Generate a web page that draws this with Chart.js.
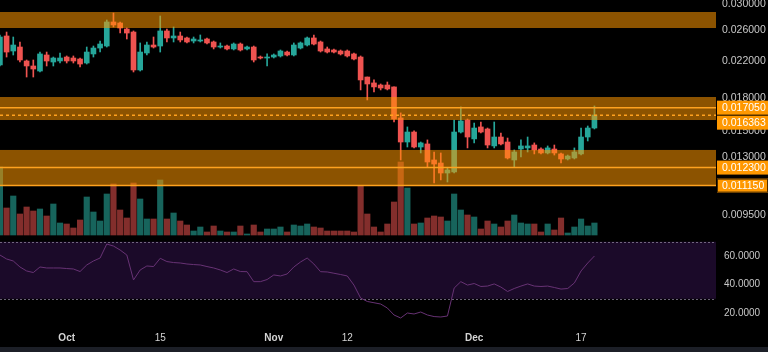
<!DOCTYPE html>
<html>
<head>
<meta charset="utf-8">
<script src="https://cdn.jsdelivr.net/npm/chart.js@4/dist/chart.umd.min.js"></script>
<style>
  html, body { margin: 0; padding: 0; background: #000; }
  #wrap { position: relative; width: 768px; height: 347px; }
  #foot { width: 768px; height: 5px; background: #1c1f27; }
</style>
</head>
<body>
<div id="wrap"><canvas id="chart"></canvas></div>
<div id="foot"></div>
<script>
// daily candles, Sep 21 .. Dec 19 (day 0 = Oct 1)
const days = [-10, -9, -8, -7, -6, -5, -4, -3, -2, -1,
  0, 1, 2, 3, 4, 5, 6, 7, 8, 9,
  10, 11, 12, 13, 14, 15, 16, 17, 18, 19,
  20, 21, 22, 23, 24, 25, 26, 27, 28, 29,
  30, 31, 32, 33, 34, 35, 36, 37, 38, 39,
  40, 41, 42, 43, 44, 45, 46, 47, 48, 49,
  50, 51, 52, 53, 54, 55, 56, 57, 58, 59,
  60, 61, 62, 63, 64, 65, 66, 67, 68, 69,
  70, 71, 72, 73, 74, 75, 76, 77, 78, 79];

const opens = [0.02152, 0.02520, 0.02322, 0.02373, 0.02199, 0.02140, 0.02082, 0.02272, 0.02187, 0.02199,
  0.02247, 0.02235, 0.02223, 0.02175, 0.02285, 0.02360, 0.02386, 0.02720, 0.02705, 0.02618,
  0.02575, 0.02094, 0.02297, 0.02399, 0.02386, 0.02590, 0.02493, 0.02520, 0.02493, 0.02452,
  0.02452, 0.02479, 0.02439, 0.02373, 0.02386, 0.02348, 0.02412, 0.02348, 0.02373, 0.02247,
  0.02235, 0.02247, 0.02260, 0.02309, 0.02272, 0.02360, 0.02399, 0.02493, 0.02439, 0.02348,
  0.02335, 0.02322, 0.02322, 0.02285, 0.02247, 0.02015, 0.01951, 0.01929, 0.01929, 0.01909,
  0.01612, 0.01414, 0.01493, 0.01376, 0.01399, 0.01282, 0.01261, 0.01194, 0.01201, 0.01493,
  0.01594, 0.01438, 0.01535, 0.01518, 0.01384, 0.01453, 0.01414, 0.01282, 0.01361, 0.01369,
  0.01391, 0.01361, 0.01332, 0.01361, 0.01325, 0.01289, 0.01296, 0.01325, 0.01453, 0.01526];

const highs = [0.02534, 0.02575, 0.02506, 0.02439, 0.02211, 0.02211, 0.02309, 0.02309, 0.02247, 0.02297,
  0.02260, 0.02260, 0.02235, 0.02373, 0.02386, 0.02452, 0.02750, 0.02856, 0.02720, 0.02632,
  0.02590, 0.02426, 0.02439, 0.02506, 0.02810, 0.02618, 0.02647, 0.02575, 0.02506, 0.02506,
  0.02534, 0.02493, 0.02452, 0.02426, 0.02399, 0.02426, 0.02426, 0.02386, 0.02386, 0.02260,
  0.02285, 0.02285, 0.02335, 0.02322, 0.02426, 0.02439, 0.02506, 0.02534, 0.02452, 0.02373,
  0.02348, 0.02335, 0.02335, 0.02297, 0.02260, 0.02015, 0.01983, 0.01940, 0.01961, 0.01909,
  0.01657, 0.01535, 0.01502, 0.01414, 0.01430, 0.01339, 0.01332, 0.01227, 0.01594, 0.01712,
  0.01603, 0.01568, 0.01577, 0.01526, 0.01577, 0.01485, 0.01445, 0.01354, 0.01430, 0.01453,
  0.01407, 0.01369, 0.01384, 0.01391, 0.01332, 0.01317, 0.01369, 0.01526, 0.01543, 0.01721];

const lows = [0.02140, 0.02247, 0.02272, 0.02187, 0.02015, 0.02015, 0.02071, 0.02140, 0.02140, 0.02175,
  0.02175, 0.02175, 0.02128, 0.02163, 0.02247, 0.02309, 0.02373, 0.02647, 0.02561, 0.02479,
  0.02071, 0.02082, 0.02272, 0.02360, 0.02309, 0.02439, 0.02439, 0.02439, 0.02426, 0.02426,
  0.02439, 0.02412, 0.02348, 0.02360, 0.02335, 0.02335, 0.02322, 0.02335, 0.02187, 0.02223,
  0.02140, 0.02235, 0.02247, 0.02260, 0.02260, 0.02348, 0.02386, 0.02399, 0.02309, 0.02297,
  0.02297, 0.02272, 0.02247, 0.02211, 0.01878, 0.01778, 0.01857, 0.01878, 0.01878, 0.01577,
  0.01282, 0.01376, 0.01369, 0.01332, 0.01234, 0.01131, 0.01150, 0.01137, 0.01194, 0.01485,
  0.01369, 0.01407, 0.01485, 0.01369, 0.01369, 0.01391, 0.01289, 0.01234, 0.01303, 0.01339,
  0.01325, 0.01325, 0.01325, 0.01317, 0.01261, 0.01282, 0.01289, 0.01317, 0.01422, 0.01518];

const closes = [0.02506, 0.02309, 0.02399, 0.02211, 0.02140, 0.02105, 0.02285, 0.02199, 0.02235, 0.02235,
  0.02199, 0.02199, 0.02163, 0.02309, 0.02360, 0.02412, 0.02720, 0.02676, 0.02632, 0.02561,
  0.02094, 0.02309, 0.02399, 0.02373, 0.02590, 0.02493, 0.02520, 0.02466, 0.02439, 0.02479,
  0.02466, 0.02426, 0.02373, 0.02386, 0.02348, 0.02412, 0.02335, 0.02373, 0.02211, 0.02235,
  0.02247, 0.02272, 0.02322, 0.02272, 0.02399, 0.02426, 0.02493, 0.02412, 0.02322, 0.02309,
  0.02309, 0.02285, 0.02260, 0.02223, 0.01983, 0.01940, 0.01909, 0.01898, 0.01888, 0.01603,
  0.01414, 0.01493, 0.01376, 0.01407, 0.01268, 0.01254, 0.01194, 0.01214, 0.01493, 0.01586,
  0.01453, 0.01526, 0.01493, 0.01391, 0.01453, 0.01399, 0.01296, 0.01339, 0.01384, 0.01384,
  0.01354, 0.01332, 0.01369, 0.01332, 0.01289, 0.01310, 0.01339, 0.01453, 0.01526, 0.01638];

const volumes = [68, 27, 39, 21, 28, 24, 26, 19, 31, 12,
  11, 7, 15, 38, 23, 14, 41, 51, 25, 17,
  52, 36, 16, 16, 55, 16, 22, 14, 10, 4,
  8, 3, 9, 4, 3, 3, 9, 1, 10, 3,
  6, 6, 8, 3, 10, 9, 11, 8, 7, 4,
  4, 4, 4, 3, 49, 21, 8, 3, 11, 33,
  73, 47, 11, 12, 17, 19, 18, 14, 41, 25,
  20, 18, 6, 14, 11, 8, 14, 20, 12, 11,
  11, 3, 11, 5, 17, 2, 8, 16, 9, 12];

const rsi = [60.7, 57.9, 56.5, 52.3, 49.5, 48.4, 52.3, 51.6, 51.6, 51.6,
  51.2, 50.9, 49.1, 53.7, 56.5, 58.6, 68.4, 67.0, 64.2, 60.7,
  43.2, 50.2, 53.0, 52.6, 58.4, 56.1, 55.4, 55.1, 54.4, 54.0,
  53.7, 52.6, 51.6, 50.2, 48.4, 50.9, 49.1, 49.0, 42.0, 42.0,
  43.5, 46.7, 46.0, 47.4, 52.3, 55.8, 58.6, 54.4, 49.0, 48.8,
  47.9, 47.0, 46.0, 39.6, 30.5, 28.1, 27.2, 26.3, 23.5, 18.6,
  16.5, 20.0, 19.3, 20.7, 18.6, 17.5, 17.2, 17.9, 37.5, 42.0,
  39.6, 40.7, 38.6, 38.9, 40.4, 38.2, 35.1, 37.2, 38.9, 40.4,
  38.9, 38.6, 38.9, 37.9, 36.8, 37.2, 41.1, 49.5, 55.1, 60.0];

// support / resistance zones and levels
const zoneLows = [0.02632, 0.01594, 0.01115];
const zoneHighs = [0.02872, 0.01807, 0.01354];
const levelValues = [0.017050, 0.016363, 0.012300, 0.011150];
const levelDashed = [false, true, false, false];
const rsiBand = [30, 70];

// axes
const xTickDays = [0, 14, 31, 42, 61, 77];
const xTickLabels = ['Oct', '15', 'Nov', '12', 'Dec', '17'];
const priceTicks = [0.03, 0.026, 0.022, 0.018, 0.015, 0.013, 0.0095];
const rsiTicks = [60, 40, 20];

const FONT = '"Liberation Sans", Arial, sans-serif';
const UP = '#26a69a';
const DOWN = '#ef5350';

const isUp = i => closes[i] >= opens[i];
const candleColor = ctx => isUp(ctx.dataIndex) ? UP : DOWN;
const volColor = ctx => isUp(ctx.dataIndex) ? 'rgba(38, 166, 154, 0.6)' : 'rgba(239, 83, 80, 0.55)';

const zonesPlugin = {
    id: 'zones',
    beforeDatasetsDraw(chart) {
        const { ctx, chartArea: a, scales: { yr } } = chart;
        const top = yr.getPixelForValue(rsiBand[1]);
        const bot = yr.getPixelForValue(rsiBand[0]);
        ctx.save();
        ctx.fillStyle = '#1b0a29';
        ctx.fillRect(a.left, top, a.right - a.left, bot - top);
        ctx.strokeStyle = 'rgba(150, 140, 165, 0.7)';
        ctx.lineWidth = 1;
        ctx.setLineDash([2, 2]);
        [top, bot].forEach(py => {
            ctx.beginPath();
            ctx.moveTo(a.left, Math.round(py) + 0.5);
            ctx.lineTo(a.right, Math.round(py) + 0.5);
            ctx.stroke();
        });
        ctx.restore();
    },
    afterDatasetsDraw(chart) {
        const { ctx, chartArea: a, scales: { y } } = chart;
        ctx.save();
        ctx.fillStyle = 'rgba(255, 152, 0, 0.55)';
        zoneLows.forEach((lo, i) => {
            const y1 = y.getPixelForValue(zoneHighs[i]);
            const y2 = y.getPixelForValue(lo);
            ctx.fillRect(a.left, y1, a.right - a.left, y2 - y1);
        });
        ctx.strokeStyle = '#ffa21f';
        ctx.lineWidth = 1.5;
        levelValues.forEach((v, i) => {
            const py = y.getPixelForValue(v);
            ctx.setLineDash(levelDashed[i] ? [3, 3] : []);
            ctx.beginPath();
            ctx.moveTo(a.left, py);
            ctx.lineTo(a.right, py);
            ctx.stroke();
        });
        ctx.restore();
    },
    afterDraw(chart) {
        // price tags on the right axis
        const { ctx, scales: { y } } = chart;
        ctx.save();
        ctx.font = '10.5px ' + FONT;
        ctx.textBaseline = 'middle';
        let prev = -Infinity;
        levelValues.forEach((v, i) => {
            let py = y.getPixelForValue(v);
            if (py - prev < 15) py = prev + 15;
            prev = py;
            ctx.fillStyle = '#ff9800';
            ctx.fillRect(y.left + 1, py - 7, y.right - y.left - 1, 14);
            if (i === levelValues.length - 1) {
                ctx.strokeStyle = '#4a2c00';
                ctx.lineWidth = 1;
                ctx.strokeRect(y.left + 1.5, py - 6.5, y.right - y.left - 2, 13);
            }
            ctx.fillStyle = '#ffffff';
            ctx.fillText(v.toFixed(6), y.left + 6, py + 0.5);
        });
        ctx.restore();
    }
};

new Chart(document.getElementById('chart'), {
    data: {
        datasets: [
            {
                type: 'line',
                label: 'RSI',
                data: days.map((d, i) => ({ x: d, y: rsi[i] })),
                yAxisID: 'yr',
                borderColor: '#673274',
                borderWidth: 1,
                pointRadius: 0,
                tension: 0,
                order: 0
            },
            {
                type: 'bar',
                label: 'Body',
                data: days.map((d, i) => ({ x: d, y: [opens[i], closes[i]] })),
                yAxisID: 'y',
                backgroundColor: candleColor,
                barThickness: 5,
                minBarLength: 1,
                grouped: false,
                order: 1
            },
            {
                type: 'bar',
                label: 'Wick',
                data: days.map((d, i) => ({ x: d, y: [lows[i], highs[i]] })),
                yAxisID: 'y',
                backgroundColor: candleColor,
                barThickness: 1,
                grouped: false,
                order: 2
            },
            {
                type: 'bar',
                label: 'Volume',
                data: days.map((d, i) => ({ x: d, y: volumes[i] })),
                yAxisID: 'yv',
                backgroundColor: volColor,
                barThickness: 5.5,
                grouped: false,
                order: 3
            }
        ]
    },
    options: {
        responsive: true,
        maintainAspectRatio: false,
        animation: false,
        layout: { padding: 0 },
        plugins: {
            legend: { display: false },
            tooltip: { enabled: false }
        },
        scales: {
            x: {
                type: 'linear',
                offset: false,
                min: -9.985,
                max: 97.2,
                grid: { display: false, drawTicks: false, offset: false },
                border: { display: false },
                afterBuildTicks: s => { s.ticks = xTickDays.map(v => ({ value: v })); },
                afterFit: s => { s.height = 22; s.paddingLeft = 0; s.paddingRight = 0; },
                ticks: {
                    color: '#d4d4d4',
                    padding: 7,
                    maxRotation: 0,
                    autoSkip: false,
                    font: c => ({
                        family: FONT,
                        size: 10,
                        weight: isNaN(Number(xTickLabels[c.index])) ? 'bold' : 'normal'
                    }),
                    callback: (v, i) => xTickLabels[i]
                }
            },
            y: {
                type: 'logarithmic',
                position: 'right',
                stack: 'right',
                stackWeight: 236,
                min: 0.008471,
                max: 0.030661,
                grid: { display: false, drawTicks: false },
                border: { display: false },
                afterBuildTicks: s => { s.ticks = priceTicks.map(v => ({ value: v })); },
                afterFit: s => { s.width = 52; s.paddingTop = 0; s.paddingBottom = 0; },
                ticks: {
                    color: '#c8c8c8',
                    padding: 6,
                    font: { family: FONT, size: 10.5 },
                    callback: v => Number(v).toFixed(6)
                }
            },
            yr: {
                type: 'linear',
                position: 'right',
                stack: 'right',
                stackWeight: 89,
                min: 11.58,
                max: 74.04,
                grid: { display: false, drawTicks: false },
                border: { display: false },
                afterBuildTicks: s => { s.ticks = rsiTicks.map(v => ({ value: v })); },
                afterFit: s => { s.width = 52; s.paddingTop = 0; s.paddingBottom = 0; },
                ticks: {
                    color: '#c8c8c8',
                    padding: 8,
                    font: { family: FONT, size: 10 },
                    callback: v => Number(v).toFixed(4)
                }
            },
            yv: {
                type: 'linear',
                display: false,
                min: -90,
                max: 235
            }
        }
    },
    plugins: [zonesPlugin]
});
</script>
</body>
</html>
